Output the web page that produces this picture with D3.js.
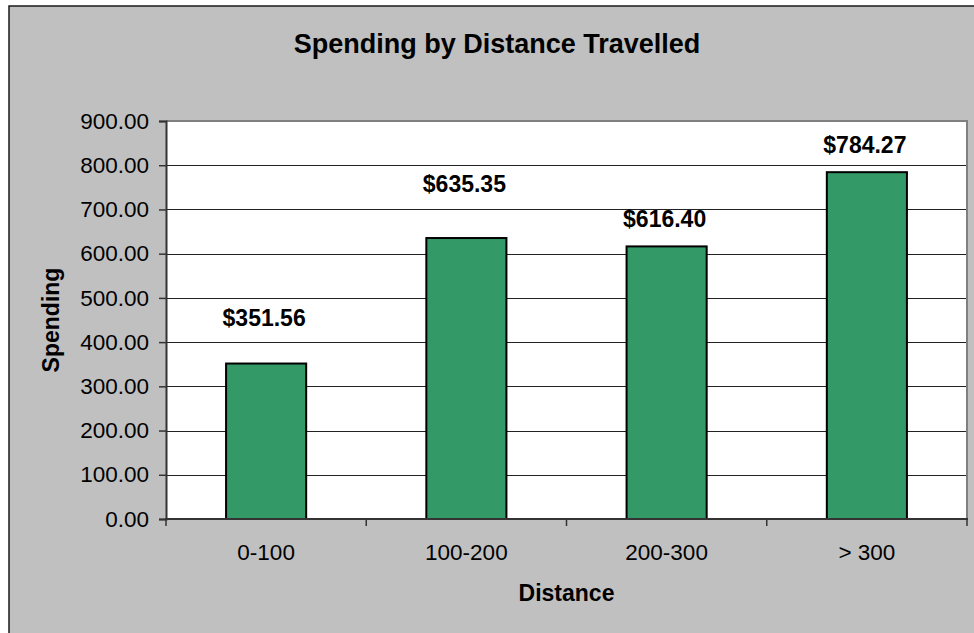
<!DOCTYPE html>
<html>
<head>
<meta charset="utf-8">
<script src="https://cdn.jsdelivr.net/npm/d3@7/dist/d3.min.js"></script>
<style>
  html, body { margin: 0; padding: 0; background: #ffffff; }
  svg { display: block; font-family: "Liberation Sans", Arial, sans-serif; }
</style>
</head>
<body>
<svg id="chart" width="974" height="633"></svg>
<script>
// Average spending per trip, grouped by distance band
const categories = ["0-100", "100-200", "200-300", "> 300"];
const spending = [351.56, 635.35, 616.40, 784.27];
const yTicks = [0, 100, 200, 300, 400, 500, 600, 700, 800, 900];

// how far each value label sits above its bar (label baseline to bar top)
const labelLift = [38, 46, 19, 19];

const svg = d3.select("#chart");
const plot = { left: 166, right: 967, top: 121, bottom: 519 };

// chart area
svg.append("rect")
  .attr("x", 9).attr("y", 6)
  .attr("width", 1000).attr("height", 700)
  .attr("fill", "#c0c0c0")
  .attr("stroke", "#1a1a1a").attr("stroke-width", 1.5);

const x = d3.scaleBand()
  .domain(categories)
  .range([plot.left, plot.right])
  .paddingInner(0.6)
  .paddingOuter(0.3);

const y = d3.scaleLinear()
  .domain([0, 900])
  .range([plot.bottom, plot.top]);

// plot area
svg.append("rect")
  .attr("x", plot.left).attr("y", plot.top)
  .attr("width", plot.right - plot.left).attr("height", plot.bottom - plot.top)
  .attr("fill", "#ffffff");

// gridlines
svg.append("g")
  .selectAll("line")
  .data(yTicks.filter(t => t > 0 && t < 900))
  .join("line")
  .attr("x1", plot.left).attr("x2", plot.right)
  .attr("y1", d => Math.round(y(d)) + 0.5).attr("y2", d => Math.round(y(d)) + 0.5)
  .attr("stroke", "#222").attr("stroke-width", 1);

// plot border (top and right)
svg.append("path")
  .attr("d", `M${plot.left},${plot.top} H${plot.right} V${plot.bottom}`)
  .attr("fill", "none")
  .attr("stroke", "#808080").attr("stroke-width", 2);

// bars
svg.append("g")
  .selectAll("rect")
  .data(spending)
  .join("rect")
  .attr("x", (d, i) => x(categories[i]))
  .attr("y", d => y(d))
  .attr("width", x.bandwidth())
  .attr("height", d => y(0) - y(d))
  .attr("fill", "#339966")
  .attr("stroke", "#000").attr("stroke-width", 2);

// y axis
const yAxis = d3.axisLeft(y)
  .tickValues(yTicks)
  .tickSize(7)
  .tickPadding(10)
  .tickFormat(d3.format(".2f"));
const gy = svg.append("g")
  .attr("transform", `translate(${plot.left},0)`)
  .call(yAxis);
gy.select(".domain").attr("stroke", "#333").attr("stroke-width", 2);
gy.selectAll(".tick line").attr("stroke", "#333").attr("stroke-width", 1.5);
gy.selectAll(".tick text")
  .attr("font-size", 22.5).attr("fill", "#000")
  .attr("font-family", "'Liberation Sans', Arial, sans-serif");

// x axis: line, boundary ticks and category labels
const step = x.step();
const boundaries = categories.map(c => x(c) + x.bandwidth() / 2 - step / 2)
  .concat([x(categories[categories.length - 1]) + x.bandwidth() / 2 + step / 2]);
svg.append("line")
  .attr("x1", plot.left - 1).attr("x2", plot.right + 1)
  .attr("y1", y(0)).attr("y2", y(0))
  .attr("stroke", "#333").attr("stroke-width", 2);
svg.append("g")
  .selectAll("line")
  .data(boundaries)
  .join("line")
  .attr("x1", d => d).attr("x2", d => d)
  .attr("y1", y(0)).attr("y2", y(0) + 7)
  .attr("stroke", "#333").attr("stroke-width", 1.5);
svg.append("g")
  .selectAll("text")
  .data(categories)
  .join("text")
  .attr("x", d => x(d) + x.bandwidth() / 2)
  .attr("y", 560)
  .attr("text-anchor", "middle")
  .attr("font-size", 22.5)
  .text(d => d);

// value labels
svg.append("g")
  .selectAll("text")
  .data(spending)
  .join("text")
  .attr("x", (d, i) => x(categories[i]) + x.bandwidth() / 2 - 2)
  .attr("y", (d, i) => y(d) - labelLift[i])
  .attr("text-anchor", "middle")
  .attr("font-size", 23)
  .attr("font-weight", "bold")
  .text(d => d3.format("$,.2f")(d));

// titles
svg.append("text")
  .attr("x", 497).attr("y", 53)
  .attr("text-anchor", "middle")
  .attr("font-size", 27).attr("font-weight", "bold")
  .text("Spending by Distance Travelled");

svg.append("text")
  .attr("x", (plot.left + plot.right) / 2).attr("y", 601)
  .attr("text-anchor", "middle")
  .attr("font-size", 23).attr("font-weight", "bold")
  .text("Distance");

svg.append("text")
  .attr("transform", `translate(59,${(plot.top + plot.bottom) / 2}) rotate(-90)`)
  .attr("text-anchor", "middle")
  .attr("font-size", 23).attr("font-weight", "bold")
  .text("Spending");
</script>
</body>
</html>
